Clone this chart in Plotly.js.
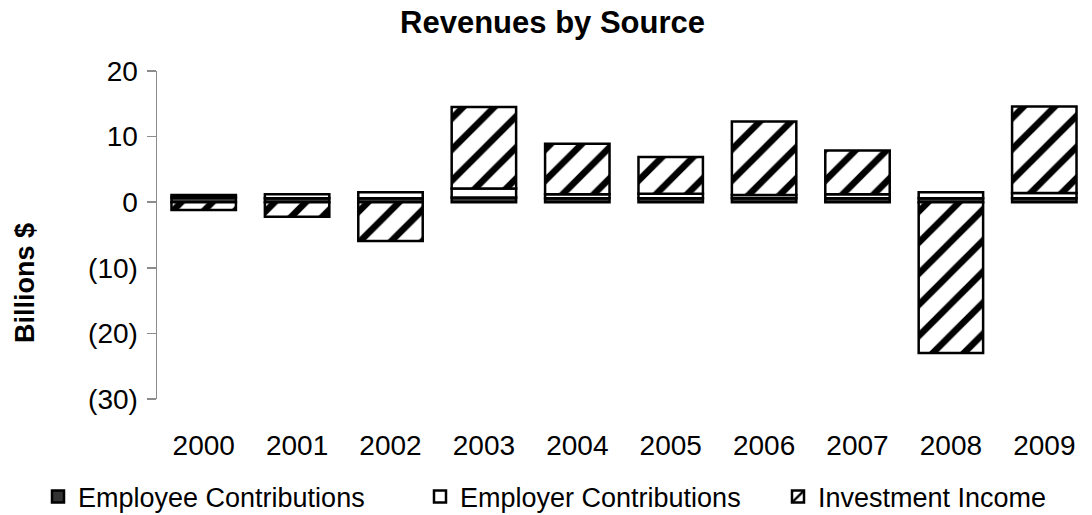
<!DOCTYPE html>
<html>
<head>
<meta charset="utf-8">
<script src="https://cdn.plot.ly/plotly-3.0.1.min.js"></script>
<style>html,body{margin:0;padding:0;background:#fff;}#chart{width:1092px;height:515px;}</style>
</head>
<body>
<div id="chart"></div>
<script>
const years = ["2000","2001","2002","2003","2004","2005","2006","2007","2008","2009"];
const employeeContributions = [0.7, 0.6, 0.6, 0.7, 0.6, 0.6, 0.6, 0.6, 0.6, 0.6];
const employerContributions = [0.4, 0.6, 0.9, 1.4, 0.6, 0.7, 0.5, 0.6, 0.9, 0.8];
const investmentIncome = [-1.2, -2.2, -5.9, 12.4, 7.7, 5.6, 11.2, 6.7, -23.0, 13.2];
const yTickValues = [-30, -20, -10, 0, 10, 20];
const yTickLabels = ["(30)", "(20)", "(10)", "0", "10", "20"];

const FONT = "Liberation Sans, Arial, sans-serif";
const boundaries = years.map((_, i) => i + 0.5);
const edge = {color: "#000", width: 2.5};

const traces = [
  {type: "bar", name: "Employee Contributions", x: years, y: employeeContributions, legend: "legend",
   marker: {color: "#333333", line: edge}},
  {type: "bar", name: "Employer Contributions", x: years, y: employerContributions, legend: "legend2",
   marker: {color: "#ffffff", line: edge}},
  {type: "bar", name: "Investment Income", x: years, y: investmentIncome, legend: "legend3",
   marker: {color: "#ffffff", line: edge,
            pattern: {shape: "/", bgcolor: "#ffffff", fgcolor: "#000000", size: 22, solidity: 0.3}}}
];

function legendAt(textStartPx) {
  return {orientation: "h", xref: "container", yref: "container", x: (textStartPx - 40) / 1092, xanchor: "left",
          y: 18 / 515, yanchor: "middle", font: {family: FONT, size: 27, color: "#000"},
          itemwidth: 30, bgcolor: "rgba(0,0,0,0)"};
}

const axisGray = "#8c8c8c";
const layout = {
  width: 1092, height: 515,
  margin: {l: 157, r: 1, t: 71, b: 116, autoexpand: false},
  paper_bgcolor: "#fff", plot_bgcolor: "#fff",
  barmode: "relative", bargap: 0.31,
  font: {family: FONT, color: "#000", size: 28},
  title: {text: "<b>Revenues by Source</b>", x: 0.506, xref: "container", xanchor: "center",
          y: 0.957, yref: "container", yanchor: "middle",
          font: {family: FONT, size: 31, color: "#000"}},
  showlegend: true,
  legend: legendAt(78),
  legend2: legendAt(460),
  legend3: legendAt(818),
  xaxis: {type: "category", range: [-0.5, years.length - 0.5], showline: false, ticks: "",
          showgrid: false, zeroline: false, tickfont: {family: FONT, size: 28},
          ticklabelstandoff: 27, fixedrange: true},
  xaxis2: {overlaying: "x", anchor: "free", position: 0.6, side: "bottom", range: [-0.5, years.length - 0.5],
           showline: true, linecolor: axisGray, linewidth: 1.5, ticks: "outside", ticklen: 9, tickwidth: 1.5,
           tickcolor: axisGray, tickmode: "array", tickvals: boundaries, showticklabels: false,
           showgrid: false, zeroline: false, layer: "below traces"},
  xaxis3: {overlaying: "x", anchor: "free", position: 0.6, side: "top", range: [-0.5, years.length - 0.5],
           showline: false, ticks: "outside", ticklen: 9, tickwidth: 1.5,
           tickcolor: axisGray, tickmode: "array", tickvals: boundaries, showticklabels: false,
           showgrid: false, zeroline: false, layer: "below traces"},
  yaxis: {range: [-30, 20], tickmode: "array", tickvals: yTickValues, ticktext: yTickLabels,
          showline: true, linecolor: axisGray, linewidth: 1.5, ticks: "outside", ticklen: 9, tickwidth: 1.5,
          tickcolor: axisGray, showgrid: false, zeroline: false, tickfont: {family: FONT, size: 28},
          ticklabelstandoff: 3, fixedrange: true},
  yaxis2: {overlaying: "y", anchor: "x", side: "left", range: [-30, 20], tickmode: "array", tickvals: yTickValues,
           showline: false, ticks: "inside", ticklen: 9, tickwidth: 1.5, tickcolor: axisGray,
           showticklabels: false, showgrid: false, zeroline: false},
  annotations: [{text: "<b>Billions $</b>", textangle: -90, xref: "paper", yref: "paper",
                 x: (25 - 157) / 934, y: (399 - 283) / 328, xanchor: "center", yanchor: "middle",
                 showarrow: false, font: {family: FONT, size: 27, color: "#000"}}]
};

Plotly.newPlot("chart", traces, layout, {displayModeBar: false, staticPlot: true});
</script>
</body>
</html>
